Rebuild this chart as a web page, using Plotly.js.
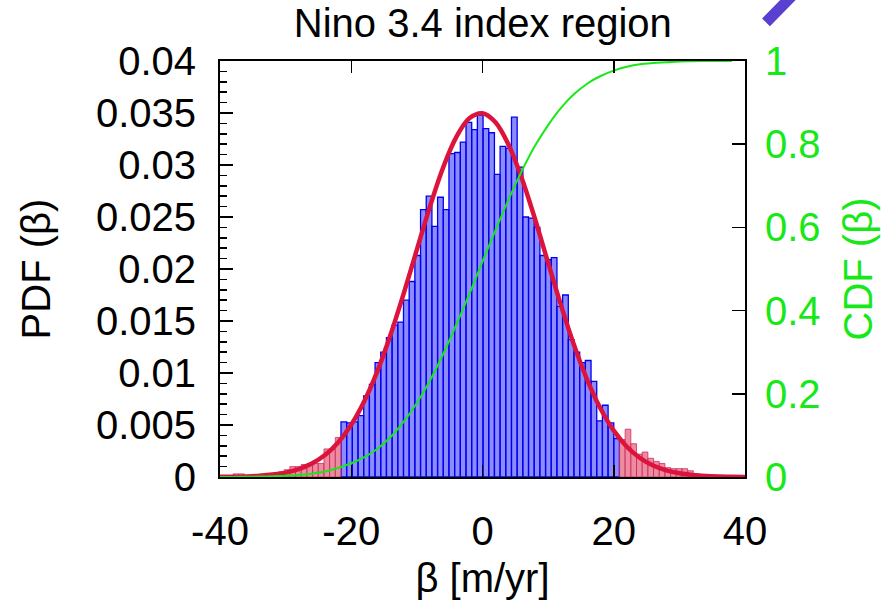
<!DOCTYPE html>
<html>
<head>
<meta charset="utf-8">
<script src="https://cdn.plot.ly/plotly-3.0.1.min.js"></script>
<style>
html,body{margin:0;padding:0;background:#fff;}
#chart{width:890px;height:615px;}
</style>
</head>
<body>
<div id="chart"></div>
<script>
// ---- data ----
const chartTitle = "Nino 3.4 index region";
const xTitle = "β [m/yr]";
const yTitle = "PDF (β)";
const y2Title = "CDF (β)";

// histogram bins
const binStart = -39.75;   // left edge of first bin
const binWidth = 0.866;
const tailLow = -21.5;     // bins left of this are tail (red)
const tailHigh = 20.9;     // bins right of this are tail (red)
const pdfHist = [
  0.0001, 0.0001, 0.0003, 0.0003, 0.0001, 0.0001, 0.0002, 0.0002, 0.0002, 0.0003,
  0.0005, 0.0007, 0.0010, 0.0010, 0.0012, 0.0013, 0.0013, 0.0013, 0.0027, 0.0027,
  0.0038, 0.0053, 0.0052, 0.0053, 0.0059, 0.0078, 0.0089, 0.0110, 0.0120, 0.0134,
  0.0146, 0.0149, 0.0170, 0.0188, 0.0213, 0.0257, 0.0270, 0.0241, 0.0269, 0.0257,
  0.0311, 0.0312, 0.0322, 0.0341, 0.0334, 0.0348, 0.0335, 0.0331, 0.0291, 0.0318,
  0.0316, 0.0346, 0.0298, 0.0250, 0.0249, 0.0240, 0.0213, 0.0209, 0.0211, 0.0164,
  0.0175, 0.0132, 0.0120, 0.0110, 0.0112, 0.0092, 0.0054, 0.0069, 0.0052, 0.0037,
  0.0036, 0.0046, 0.0032, 0.0022, 0.0024, 0.0018, 0.0015, 0.0013, 0.0009, 0.0008,
  0.0008, 0.0008, 0.0006, 0.0003, 0.0001
];

// fitted PDF curve (red)
const fitX = [-40,-38,-36,-34,-32,-30,-28,-26,-24,-22,-20,-18,-16,-14,-12,-10,-8,-6,-4,-2,
              0,2,4,6,8,10,12,14,16,18,20,22,24,26,28,30,32,34,36,38,40];
const fitY = [0.000013,0.000029,0.000060,0.000120,0.000231,0.000425,0.000755,0.00129,0.00211,0.00332,
              0.00503,0.00731,0.01021,0.01370,0.01765,0.02186,0.02602,0.02976,0.03268,0.03450,
              0.03498,0.03409,0.03191,0.02870,0.02481,0.02059,0.01643,0.01259,0.00927,0.00656,
              0.00446,0.00291,0.00183,0.00110,0.000638,0.000355,0.000190,0.000098,0.000048,0.000023,0.000010];

// cumulative distribution (green, right axis)
const cdfX = [-40,-38,-36,-34,-32,-30,-28,-26,-24,-22,-20,-18,-16,-14,-12,-10,-8,-6,-4,-2,
              0,2,4,6,8,10,12,14,16,18,20,22,24,26,28,30,32,34,36,38];
const cdfY = [0.0,0.0002,0.0005,0.001,0.002,0.003,0.005,0.008,0.013,0.022,
              0.033,0.048,0.068,0.096,0.133,0.178,0.232,0.295,0.366,0.440,
              0.518,0.594,0.668,0.736,0.796,0.846,0.888,0.921,0.946,0.964,
              0.977,0.986,0.992,0.995,0.997,0.999,0.9995,1.0,1.0,1.0];

const xTicks = [-40,-20,0,20,40];
const xTickLabels = ["-40","-20","0","20","40"];

// ---- build traces ----
const centers = pdfHist.map((_, i) => binStart + binWidth * (i + 0.5));
const blueX = [], blueY = [], redX = [], redY = [];
centers.forEach((c, i) => {
  if (c > tailLow && c < tailHigh) { blueX.push(c); blueY.push(pdfHist[i]); }
  else { redX.push(c); redY.push(pdfHist[i]); }
});

const FONT = "Liberation Sans, Arial, Helvetica, sans-serif";
const GREEN = "#17e817";

const traces = [
  {type:"bar", x:blueX, y:blueY, width:binWidth, yaxis:"y",
   marker:{color:"rgba(70,70,255,0.62)", line:{color:"#0000ee", width:1.3}},
   hoverinfo:"skip", showlegend:false},
  {type:"bar", x:redX, y:redY, width:binWidth, yaxis:"y",
   marker:{color:"rgba(232,110,135,0.8)", line:{color:"rgba(200,30,90,0.7)", width:1}},
   hoverinfo:"skip", showlegend:false},
  {type:"scatter", mode:"lines", x:cdfX, y:cdfY, yaxis:"y2",
   line:{color:GREEN, width:2, shape:"spline"}, hoverinfo:"skip", showlegend:false},
  {type:"scatter", mode:"lines", x:fitX, y:fitY, yaxis:"y",
   line:{color:"#dc143c", width:4.5, shape:"spline"}, hoverinfo:"skip", showlegend:false}
];

const layout = {
  width:890, height:615,
  margin:{l:220, r:145, t:61, b:138},
  paper_bgcolor:"#fff", plot_bgcolor:"#fff",
  font:{family:FONT, size:40, color:"#000"},
  barmode:"overlay", bargap:0,
  showlegend:false,
  title:{text:chartTitle, font:{family:FONT, size:40, color:"#000"},
         x:0.5425, xanchor:"center", y:0.962, yanchor:"middle", yref:"container"},
  xaxis:{range:[-40,40], tickvals:xTicks, ticktext:xTickLabels, ticks:"inside", ticklen:12, tickwidth:1.5,
         tickcolor:"#000", showline:true, linecolor:"#000", linewidth:2, mirror:"ticks",
         showgrid:false, zeroline:false, ticklabelstandoff:18,
         tickfont:{family:FONT, size:40, color:"#000"},
         title:{text:xTitle, font:{family:FONT, size:40, color:"#000"}, standoff:12}},
  yaxis:{range:[0,0.04], dtick:0.005, tick0:0, ticks:"inside", ticklen:13, tickwidth:1.5,
         tickcolor:"#000", showline:true, linecolor:"#000", linewidth:2, mirror:true,
         showgrid:false, zeroline:false, ticklabelstandoff:14,
         minor:{dtick:0.001, ticks:"inside", ticklen:7, tickwidth:1.5, tickcolor:"#000", showgrid:false},
         tickfont:{family:FONT, size:40, color:"#000"},
         title:{text:yTitle, font:{family:FONT, size:40, color:"#000"}, standoff:33}},
  yaxis2:{overlaying:"y", side:"right", range:[0,1], dtick:0.2, tick0:0,
          ticks:"inside", ticklen:13, tickwidth:1.5, tickcolor:"#000",
          showline:true, linecolor:"#000", linewidth:2, showgrid:false, zeroline:false,
          ticklabelstandoff:10,
          tickfont:{family:FONT, size:40, color:GREEN},
          title:{text:y2Title, font:{family:FONT, size:40, color:GREEN}, standoff:24}},
  shapes:[
    {type:"line", xref:"paper", yref:"paper", x0:1.04, y0:1.093, x1:1.10, y1:1.17,
     line:{color:"#5a3fd0", width:11}}
  ]
};

Plotly.newPlot("chart", traces, layout, {staticPlot:true, displayModeBar:false});
</script>
</body>
</html>
